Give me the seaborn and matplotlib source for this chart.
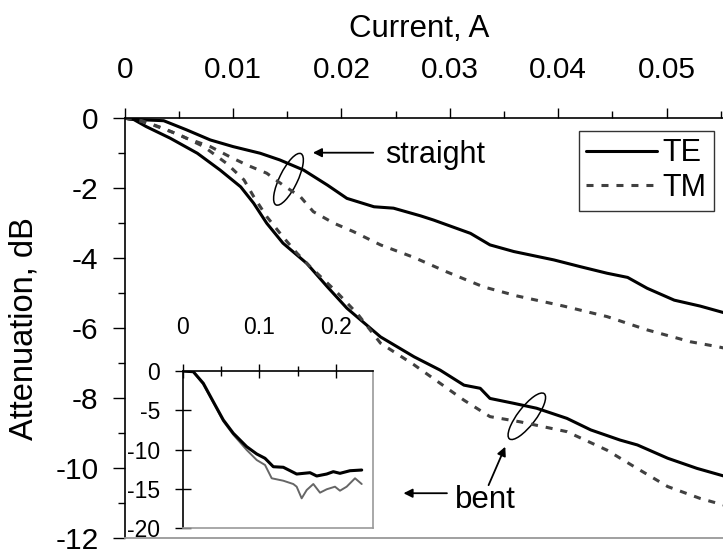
import numpy as np
import matplotlib
matplotlib.use("Agg")
import matplotlib.pyplot as plt
import seaborn as sns
from matplotlib.patches import Ellipse
from matplotlib.transforms import ScaledTranslation
from matplotlib.ticker import MultipleLocator, FixedLocator

# ── Données ────────────────────────────────────────────────────────────
# tronçon droit, TE
straight_te_x = [0, 0.0008, 0.0036, 0.0057, 0.0079, 0.0100, 0.0125, 0.0143, 0.0165,
                 0.0187, 0.0205, 0.0230, 0.0248, 0.0273, 0.0285, 0.0319, 0.0337,
                 0.0359, 0.0396, 0.0420, 0.0445, 0.0464, 0.0482, 0.0507, 0.0531, 0.0553]
straight_te_y = [0, -0.03, -0.07, -0.33, -0.62, -0.81, -1.00, -1.19, -1.48,
                 -1.91, -2.29, -2.53, -2.57, -2.79, -2.91, -3.29, -3.62,
                 -3.81, -4.05, -4.24, -4.43, -4.55, -4.86, -5.20, -5.37, -5.56]
# tronçon droit, TM
straight_tm_x = [0, 0.0014, 0.0036, 0.0057, 0.0079, 0.0097, 0.0113, 0.0131, 0.0146,
                 0.0162, 0.0174, 0.0193, 0.0211, 0.0236, 0.0267, 0.0297, 0.0331,
                 0.0362, 0.0405, 0.0445, 0.0482, 0.0522, 0.0547, 0.0553]
straight_tm_y = [0, -0.05, -0.29, -0.57, -0.81, -1.10, -1.34, -1.57, -1.91,
                 -2.24, -2.67, -3.00, -3.24, -3.62, -3.98, -4.39, -4.82,
                 -5.08, -5.37, -5.67, -6.05, -6.39, -6.53, -6.57]
# tronçon courbé, TE
bent_te_x = [0, 0.0008, 0.0020, 0.0042, 0.0067, 0.0088, 0.0107, 0.0119, 0.0131,
             0.0146, 0.0168, 0.0187, 0.0205, 0.0236, 0.0267, 0.0291, 0.0313,
             0.0328, 0.0337, 0.0359, 0.0380, 0.0408, 0.0430, 0.0457, 0.0473,
             0.0501, 0.0528, 0.0553]
bent_te_y = [0, -0.03, -0.24, -0.57, -1.00, -1.48, -1.96, -2.43, -3.00,
             -3.57, -4.15, -4.82, -5.43, -6.25, -6.82, -7.20, -7.63,
             -7.72, -8.01, -8.15, -8.29, -8.58, -8.91, -9.20, -9.34,
             -9.72, -10.01, -10.23]
# tronçon courbé, TM
bent_tm_x = [0, 0.0008, 0.0026, 0.0051, 0.0073, 0.0094, 0.0110, 0.0119, 0.0131,
             0.0146, 0.0159, 0.0171, 0.0195, 0.0215, 0.0236, 0.0267, 0.0313,
             0.0337, 0.0365, 0.0408, 0.0445, 0.0470, 0.0501, 0.0531, 0.0553]
bent_tm_y = [0, -0.02, -0.19, -0.48, -0.81, -1.29, -1.76, -2.24, -2.81,
             -3.39, -3.86, -4.24, -4.95, -5.60, -6.43, -7.05, -8.06,
             -8.53, -8.68, -8.96, -9.49, -9.96, -10.53, -10.87, -11.06]

# encart (échelle de courant plus large)
inset_te_x = [0, 0.0138, 0.0268, 0.0398, 0.0529, 0.0659, 0.0833, 0.0964, 0.1072,
              0.1180, 0.1310, 0.1484, 0.1658, 0.1745, 0.1875, 0.1961, 0.2048,
              0.2178, 0.2331]
inset_te_y = [0, -0.09, -1.56, -3.90, -6.23, -7.92, -9.62, -10.55, -11.10,
              -12.17, -12.24, -13.10, -12.93, -13.35, -13.10, -12.80, -13.01,
              -12.68, -12.59]
inset_tm_x = [0, 0.0138, 0.0268, 0.0398, 0.0529, 0.0659, 0.0833, 0.0964, 0.1072,
              0.1159, 0.1310, 0.1440, 0.1484, 0.1549, 0.1615, 0.1701, 0.1788,
              0.1875, 0.1983, 0.2048, 0.2135, 0.2244, 0.2331]
inset_tm_y = [0, -0.10, -1.70, -4.00, -6.40, -8.10, -10.04, -11.32, -11.95,
              -13.64, -13.95, -14.37, -14.71, -16.19, -15.13, -14.37, -15.47,
              -15.04, -14.71, -15.22, -14.71, -13.64, -14.37]

main_xticks = [0, 0.01, 0.02, 0.03, 0.04, 0.05]
main_xlabels = ["0", "0.01", "0.02", "0.03", "0.04", "0.05"]
main_yticks = [0, -2, -4, -6, -8, -10, -12]
main_ylabels = ["0", "-2", "-4", "-6", "-8", "-10", "-12"]
inset_xticks = [0, 0.1, 0.2]
inset_xlabels = ["0", "0.1", "0.2"]
inset_yticks = [0, -5, -10, -15, -20]
inset_ylabels = ["0", "-5", "-10", "-15", "-20"]

sns.set_style("white")
plt.rcParams['font.family'] = ['Liberation Sans', 'DejaVu Sans']
plt.rcParams['axes.unicode_minus'] = False
plt.rcParams['text.color'] = 'black'
plt.rcParams['axes.labelcolor'] = 'black'
plt.rcParams['xtick.color'] = 'black'
plt.rcParams['ytick.color'] = 'black'

fig = plt.figure(figsize=(7.23, 5.54), dpi=100)
ax = fig.add_axes([0.1725, 0.0289, 0.8275, 0.7576])

tm_gray = '#404040'
tm_dash = (0, (2.3, 2.6))
sns.lineplot(x=straight_te_x, y=straight_te_y, ax=ax, color='black', lw=2.2,
             sort=False, estimator=None, label='TE')
sns.lineplot(x=straight_tm_x, y=straight_tm_y, ax=ax, color=tm_gray, lw=2.2,
             linestyle=tm_dash, sort=False, estimator=None, label='TM')
sns.lineplot(x=bent_te_x, y=bent_te_y, ax=ax, color='black', lw=2.2,
             sort=False, estimator=None)
sns.lineplot(x=bent_tm_x, y=bent_tm_y, ax=ax, color=tm_gray, lw=2.2,
             linestyle=tm_dash, sort=False, estimator=None)

ax.set_xlim(0, 0.0552)
ax.set_ylim(-12, 0)

# ── Axes : graduations en haut ─────────────────────────────────────────
ax.xaxis.tick_top()
ax.xaxis.set_major_locator(FixedLocator(main_xticks))
ax.set_xticklabels(main_xlabels)
ax.xaxis.set_minor_locator(MultipleLocator(0.005))
ax.yaxis.set_major_locator(FixedLocator(main_yticks))
ax.set_yticklabels(main_ylabels)
ax.yaxis.set_minor_locator(MultipleLocator(1))
ax.tick_params(axis='x', which='major', direction='out', length=7, width=1,
               color='black', labelsize=21.5, pad=18, top=True, bottom=False)
ax.tick_params(axis='x', which='minor', direction='out', length=4.8, width=1,
               color='black', top=True, bottom=False)
ax.tick_params(axis='y', which='major', direction='out', length=8.4, width=1,
               color='black', labelsize=21.5, pad=10.5, left=True)
ax.tick_params(axis='y', which='minor', direction='out', length=4.8, width=1,
               color='black', left=True)

for s in ['top', 'left']:
    ax.spines[s].set_color('black')
    ax.spines[s].set_linewidth(1.2)
ax.spines['bottom'].set_color('#999999')
ax.spines['bottom'].set_linewidth(1.3)
ax.spines['right'].set_visible(False)

ax.set_xlabel('Current, A', fontsize=22.5)
ax.xaxis.set_label_position('top')
ax.xaxis.set_label_coords(0.493, 1.194)
ax.set_ylabel('Attenuation, dB', fontsize=23.5)
ax.yaxis.set_label_coords(-0.143, 0.5)

leg = ax.legend(loc='upper right', bbox_to_anchor=(0.9855, 0.9705), fontsize=22,
                frameon=True, fancybox=False, shadow=False, borderpad=0.25,
                labelspacing=0.15, handlelength=2.3, handletextpad=0.2,
                borderaxespad=0)
leg.get_frame().set_edgecolor('black')
leg.get_frame().set_linewidth(1.0)

# ── Annotations ────────────────────────────────────────────────────────
arrow = dict(arrowstyle='-|>', color='black', lw=1.3, mutation_scale=13,
             shrinkA=0, shrinkB=0)
ax.annotate('', xy=(0.01736, -0.984), xytext=(0.02293, -0.984), arrowprops=arrow)
ax.text(0.02404, -1.287, 'straight', fontsize=22, va='baseline', ha='left')
ax.annotate('', xy=(0.02572, -10.72), xytext=(0.02973, -10.72), arrowprops=arrow)
ax.annotate('', xy=(0.03511, -9.39), xytext=(0.03357, -10.49), arrowprops=arrow)
ax.text(0.0305, -11.14, 'bent', fontsize=22.5, va='baseline', ha='left')

for cx, cy, ang in [(0.01511, -1.744, 64), (0.0371, -8.52, 52.5)]:
    tr = fig.dpi_scale_trans + ScaledTranslation(cx, cy, ax.transData)
    ax.add_patch(Ellipse((0, 0), width=0.57, height=0.18, angle=ang,
                         transform=tr, fill=False, edgecolor='black', lw=1.1))

# ── Encart ─────────────────────────────────────────────────────────────
axi = fig.add_axes([0.2527, 0.0464, 0.2632, 0.2839])
axi.set_facecolor('white')
sns.lineplot(x=inset_tm_x, y=inset_tm_y, ax=axi, color='#666666', lw=1.4,
             sort=False, estimator=None)
sns.lineplot(x=inset_te_x, y=inset_te_y, ax=axi, color='black', lw=2.2,
             sort=False, estimator=None)
axi.set_xlim(0, 0.2478)
axi.set_ylim(-20, 0)
axi.xaxis.tick_top()
axi.xaxis.set_major_locator(FixedLocator(inset_xticks))
axi.set_xticklabels(inset_xlabels)
axi.xaxis.set_minor_locator(FixedLocator([0.05, 0.15]))
axi.yaxis.set_major_locator(FixedLocator(inset_yticks))
axi.set_yticklabels(inset_ylabels)
axi.tick_params(axis='x', which='major', direction='inout', length=10.6, width=1,
                color='black', labelsize=16.5, pad=18, top=True, bottom=False)
axi.tick_params(axis='x', which='minor', direction='inout', length=6.5, width=1,
                color='black', top=True, bottom=False)
axi.tick_params(axis='y', which='major', direction='inout', length=11.5, width=1,
                color='black', labelsize=16.5, pad=10.5, left=True)
for s in ['top', 'left']:
    axi.spines[s].set_color('black')
    axi.spines[s].set_linewidth(1.2)
for s in ['bottom', 'right']:
    axi.spines[s].set_color('#999999')
    axi.spines[s].set_linewidth(1.2)
axi.set_xlabel('')
axi.set_ylabel('')

fig.savefig('out.png', dpi=100)
